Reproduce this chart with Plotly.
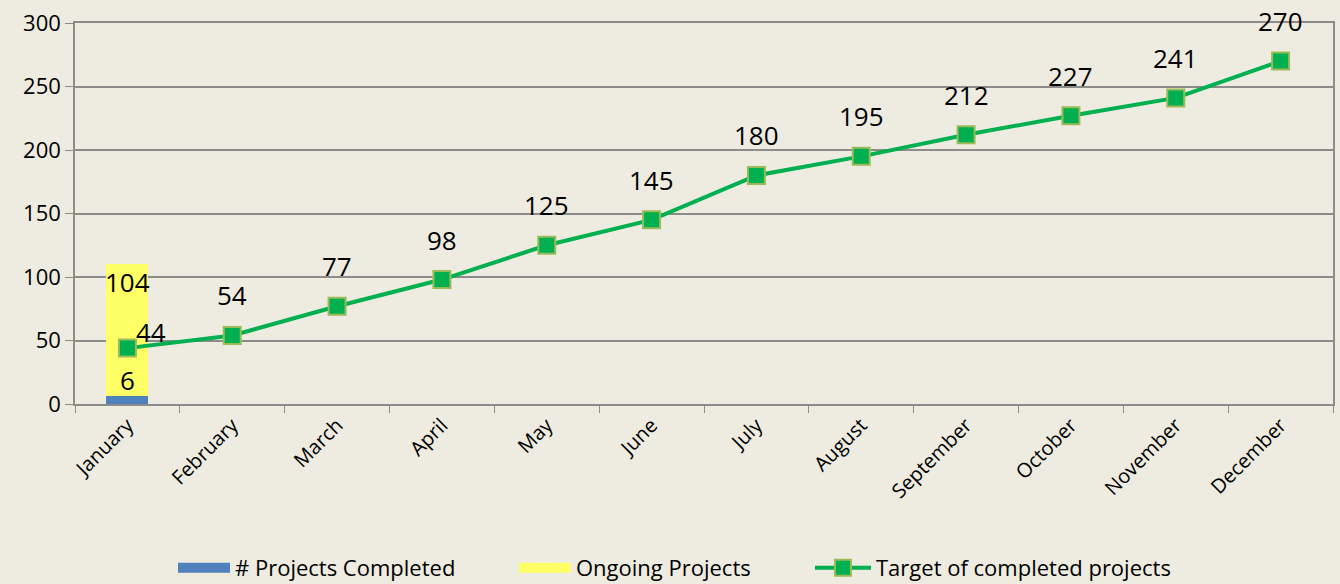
import plotly.graph_objects as go

months = ["January", "February", "March", "April", "May", "June", "July",
          "August", "September", "October", "November", "December"]
completed = [6, None, None, None, None, None, None, None, None, None, None, None]
ongoing = [104, None, None, None, None, None, None, None, None, None, None, None]
target = [44, 54, 77, 98, 125, 145, 180, 195, 212, 227, 241, 270]

bg = "#EEECE1"
grid = "#8C8C8C"
font = "Open Sans"
blue = "#4F81BD"
yellow = "#FFFF66"

fig = go.Figure()
fig.add_trace(go.Bar(x=months, y=completed, name="# Projects Completed", showlegend=False,
                     marker=dict(color=blue, line=dict(width=0)), width=0.4))
fig.add_trace(go.Bar(x=months, y=ongoing, name="Ongoing Projects", showlegend=False,
                     marker=dict(color=yellow, line=dict(width=0)), width=0.4))
# legend-only entries so the swatches look like wide blocks
fig.add_trace(go.Scatter(x=[None], y=[None], name="# Projects Completed", mode="lines",
                         line=dict(color=blue, width=17), legend="legend"))
fig.add_trace(go.Scatter(x=[None], y=[None], name="Ongoing Projects", mode="lines",
                         line=dict(color=yellow, width=17), legend="legend2"))
fig.add_trace(go.Scatter(x=months, y=target, name="Target of completed projects",
                         mode="lines+markers", legend="legend3",
                         line=dict(color="#00B050", width=4),
                         marker=dict(symbol="square", size=17, color="#00B050",
                                     line=dict(color="#9BBB59", width=2))))

annotations = []
# line labels
for i, (m, v) in enumerate(zip(months, target)):
    if i == 0:
        annotations.append(dict(x=m, y=v, text=str(v), showarrow=False,
                                xshift=24, yshift=16))
    else:
        annotations.append(dict(x=m, y=v, text=str(v), showarrow=False, yshift=40))
# bar labels
for m, c, o in zip(months, completed, ongoing):
    if c is not None:
        annotations.append(dict(x=m, y=c, text=str(c), showarrow=False, yshift=16))
    if o is not None:
        annotations.append(dict(x=m, y=c + o, text=str(o), showarrow=False, yshift=-18))
for a in annotations:
    a["font"] = dict(family=font, size=26, color="#000000")

L, R = 75, 1333


def px(xpix):
    return (xpix - L) / (R - L)


def leg(xpix, w):
    return dict(orientation="h", x=px(xpix), xanchor="left", y=-0.43, yanchor="middle",
                itemwidth=w, font=dict(family=font, size=22),
                bgcolor="rgba(0,0,0,0)", borderwidth=0)


fig.update_layout(
    barmode="stack",
    width=1340, height=584,
    margin=dict(l=L, r=1340 - R, t=23, b=180, autoexpand=False),
    paper_bgcolor=bg, plot_bgcolor=bg,
    font=dict(family=font, size=20, color="#000000"),
    annotations=annotations,
    showlegend=True,
    legend=leg(173, 52), legend2=leg(514, 52), legend3=leg(810, 56),
)
fig.update_xaxes(range=[-0.5, 11.5], showline=True, linecolor=grid, linewidth=1.5,
                 mirror=True, ticks="outside", tickson="boundaries", ticklen=7,
                 tickcolor=grid, tickangle=-45, tickfont=dict(size=20), showgrid=False)
fig.update_yaxes(range=[0, 300], dtick=50, showline=True, linecolor=grid, linewidth=1.5,
                 mirror=True, ticks="outside", ticklen=8, tickcolor=grid,
                 gridcolor=grid, gridwidth=1.5, tickfont=dict(size=22), zeroline=False)

# drop the default page margin so the figure fills the window
fig.write_html("out.html", config={"displayModeBar": False},
               post_script="document.body.style.margin='0';")
